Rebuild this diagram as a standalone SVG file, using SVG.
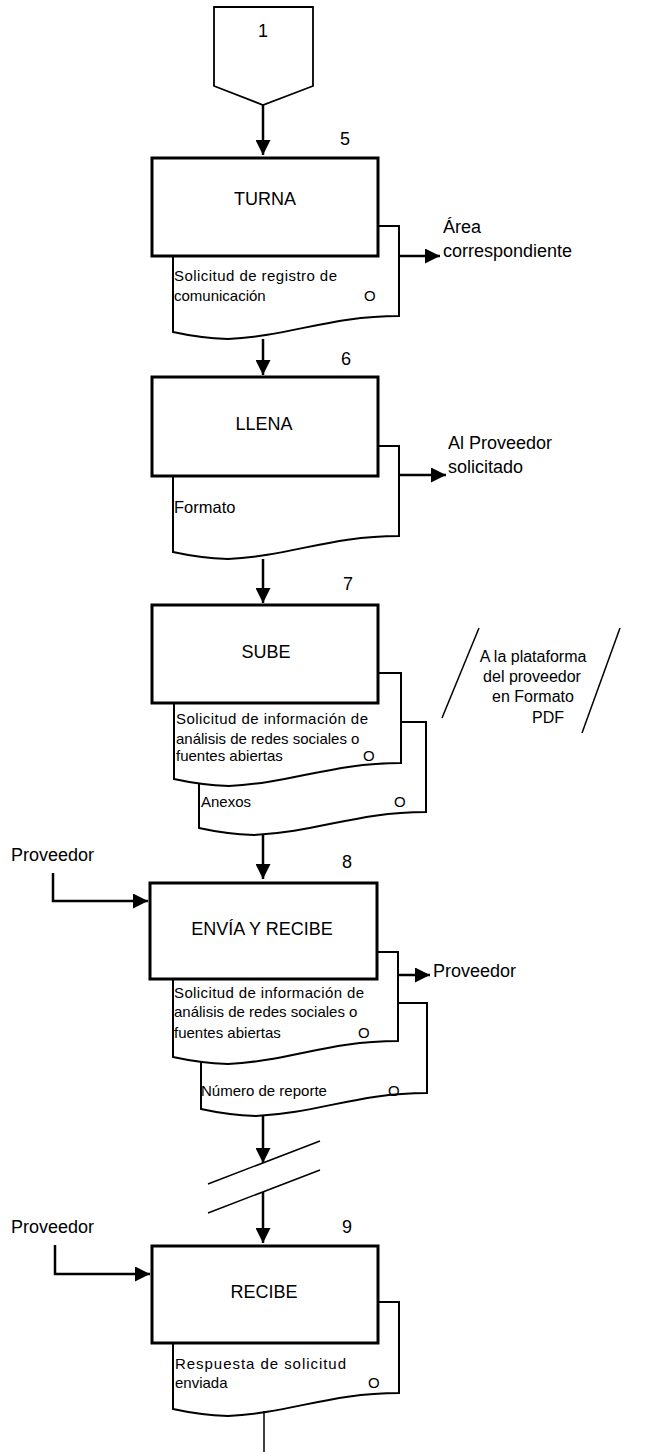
<svg xmlns="http://www.w3.org/2000/svg" width="670" height="1452" viewBox="0 0 670 1452">
<style>
text{font-family:"Liberation Sans",Arial,sans-serif;fill:#000}
.big{font-size:18px}
.mid{font-size:16px}
.sm{font-size:15px}
.c{text-anchor:middle}
.box{fill:#fff;stroke:#000;stroke-width:3}
.doc{fill:#fff;stroke:#000;stroke-width:2}
.ln{fill:none;stroke:#000;stroke-width:2.5}
.thin{fill:none;stroke:#000;stroke-width:1.5}
</style>
<defs>
<marker id="ah" markerUnits="userSpaceOnUse" markerWidth="15" markerHeight="15" refX="15" refY="7.5" orient="auto">
<path d="M0,0 L15,7.5 L0,15 Z" fill="#000"/>
</marker>
</defs>
<rect width="670" height="1452" fill="#fff"/>

<g id="connector1">
<polygon points="214,7 313,7 313,86 263,105 214,86" fill="#fff" stroke="#000" stroke-width="1.8"/>
<text class="big c" x="263" y="37">1</text>
</g>

<g id="step5">
<path class="doc" d="M173,226 H399 V316 C330,316 290,336 228,339 Q200,338 173,332 Z"/>
<rect class="box" x="152" y="158" width="226" height="98"/>
<text class="big c" x="265" y="205">TURNA</text>
<text class="big" x="340" y="145">5</text>
<text class="sm" x="174" y="281" textLength="163" lengthAdjust="spacing">Solicitud de registro de</text>
<text class="sm" x="174" y="301">comunicación</text>
<text class="sm" x="364" y="301">O</text>
</g>

<g id="step6">
<path class="doc" d="M173,446 H399 V536 C330,536 290,556 228,559 Q200,558 173,552 Z"/>
<rect class="box" x="152" y="377" width="226" height="99"/>
<text class="big c" x="264" y="430">LLENA</text>
<text class="big" x="341" y="365">6</text>
<text x="174" y="513" style="font-size:16.5px">Formato</text>
</g>

<g id="step7">
<path class="doc" d="M199,722 H426 V812 C357,812 317,832 254,835 Q226,834 199,828 Z"/>
<path class="doc" d="M174,673 H401 V763 C332,763 292,783 229,786 Q201,785 174,779 Z"/>
<rect class="box" x="152" y="605" width="226" height="98"/>
<text class="big c" x="266" y="658">SUBE</text>
<text class="big" x="343" y="590">7</text>
<text class="sm" x="176" y="724" textLength="192" lengthAdjust="spacing">Solicitud de información de</text>
<text class="sm" x="176" y="744">análisis de redes sociales o</text>
<text class="sm" x="176" y="761">fuentes abiertas</text>
<text class="sm" x="363" y="761">O</text>
<text class="sm" x="201" y="807">Anexos</text>
<text class="sm" x="394" y="807">O</text>
</g>

<g id="note7">
<line class="thin" x1="479" y1="628" x2="442" y2="718"/>
<line class="thin" x1="620" y1="628" x2="582" y2="733"/>
<text class="mid c" x="533" y="662">A la plataforma</text>
<text class="mid c" x="532" y="682">del proveedor</text>
<text class="mid c" x="533" y="702">en Formato</text>
<text class="mid c" x="548" y="723">PDF</text>
</g>

<g id="step8">
<path class="doc" d="M201,1003 H427 V1093 C358,1093 318,1113 256,1116 Q228,1115 201,1109 Z"/>
<path class="doc" d="M173,952 H398 V1041 C329,1041 289,1061 228,1064 Q200,1063 173,1057 Z"/>
<rect class="box" x="150" y="883" width="227" height="96"/>
<text class="big c" x="262" y="935">ENVÍA Y RECIBE</text>
<text class="big" x="342" y="868">8</text>
<text class="sm" x="174" y="998" textLength="190" lengthAdjust="spacing">Solicitud de información de</text>
<text class="sm" x="174" y="1017">análisis de redes sociales o</text>
<text class="sm" x="174" y="1038">fuentes abiertas</text>
<text class="sm" x="358" y="1038">O</text>
<text class="sm" x="201" y="1096">Número de reporte</text>
<text class="sm" x="388" y="1096">O</text>
</g>

<g id="step9">
<path class="doc" d="M173,1302 H399 V1393 C330,1393 290,1413 228,1416 Q200,1415 173,1409 Z"/>
<rect class="box" x="152" y="1246" width="226" height="97"/>
<text class="big c" x="264" y="1298">RECIBE</text>
<text class="big" x="342" y="1233">9</text>
<text class="sm" x="175" y="1369" textLength="171" lengthAdjust="spacing">Respuesta de solicitud</text>
<text class="sm" x="175" y="1388">enviada</text>
<text class="sm" x="368" y="1388">O</text>
</g>

<g id="labels">
<text class="big" x="443" y="233">Área</text>
<text class="big" x="443" y="257">correspondiente</text>
<text class="big" x="448" y="449">Al Proveedor</text>
<text class="big" x="448" y="473">solicitado</text>
<text class="big" x="433" y="977">Proveedor</text>
<text class="big" x="11" y="861">Proveedor</text>
<text class="big" x="11" y="1233">Proveedor</text>
</g>

<g id="connectors">
<line class="ln" x1="263" y1="105" x2="263" y2="155" marker-end="url(#ah)"/>
<line class="ln" x1="263" y1="339" x2="263" y2="375" marker-end="url(#ah)"/>
<line class="ln" x1="263" y1="559" x2="263" y2="603" marker-end="url(#ah)"/>
<line class="ln" x1="263" y1="835" x2="263" y2="879" marker-end="url(#ah)"/>
<line class="ln" x1="263" y1="1116" x2="263" y2="1163" marker-end="url(#ah)"/>
<line class="ln" x1="263" y1="1192" x2="263" y2="1243" marker-end="url(#ah)"/>
<line class="thin" x1="264" y1="1411" x2="264" y2="1452"/>
<line class="thin" x1="208" y1="1184" x2="320" y2="1141"/>
<line class="thin" x1="208" y1="1213" x2="320" y2="1170"/>
<line class="ln" x1="399" y1="256" x2="440" y2="256" marker-end="url(#ah)"/>
<line class="ln" x1="399" y1="475" x2="446" y2="475" marker-end="url(#ah)"/>
<line class="ln" x1="398" y1="975" x2="430" y2="975" marker-end="url(#ah)"/>
<polyline class="ln" points="53,873 53,901 148,901" marker-end="url(#ah)"/>
<polyline class="ln" points="55,1245 55,1274 150,1274" marker-end="url(#ah)"/>
</g>
</svg>
